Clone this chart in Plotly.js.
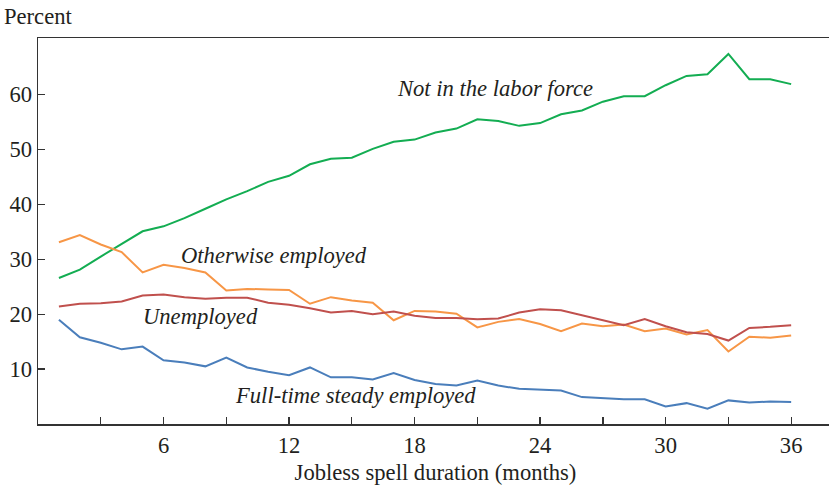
<!DOCTYPE html>
<html>
<head>
<meta charset="utf-8">
<script src="https://cdn.plot.ly/plotly-3.0.1.min.js"></script>
<style>
html,body{margin:0;padding:0;overflow:hidden;background:#fff;}
#chart{width:834px;height:490px;}
</style>
</head>
<body>
<div id="chart"></div>
<script>
const months = [1,2,3,4,5,6,7,8,9,10,11,12,13,14,15,16,17,18,19,20,21,22,23,24,25,26,27,28,29,30,31,32,33,34,35,36];
const notInLaborForce = [26.6,28.1,30.5,32.8,35.1,36.0,37.5,39.2,40.9,42.4,44.1,45.2,47.3,48.3,48.5,50.1,51.4,51.8,53.1,53.8,55.5,55.2,54.3,54.8,56.4,57.1,58.7,59.7,59.7,61.7,63.4,63.7,67.4,62.8,62.8,61.9];
const otherwiseEmployed = [33.1,34.4,32.7,31.3,27.6,29.0,28.4,27.6,24.3,24.6,24.5,24.4,21.9,23.1,22.5,22.1,18.9,20.6,20.5,20.1,17.6,18.6,19.1,18.2,16.9,18.3,17.8,18.1,16.9,17.4,16.3,17.1,13.2,15.9,15.7,16.1];
const unemployed = [21.4,21.9,22.0,22.3,23.4,23.6,23.1,22.8,23.0,23.0,22.1,21.7,21.1,20.3,20.6,20.0,20.5,19.7,19.3,19.3,19.1,19.2,20.3,20.9,20.7,19.8,19.0,18.0,19.1,17.8,16.7,16.4,15.2,17.5,17.7,18.0];
const fullTimeSteady = [19.0,15.8,14.8,13.6,14.1,11.6,11.2,10.5,12.1,10.3,9.5,8.9,10.3,8.5,8.5,8.1,9.3,8.0,7.3,7.0,7.9,7.0,6.4,6.2,6.1,4.9,4.7,4.5,4.5,3.2,3.8,2.8,4.3,3.9,4.1,4.0];
const seriesNames = ["Not in the labor force","Otherwise employed","Unemployed","Full-time steady employed"];
const xTickVals = [6,12,18,24,30,36];
const yTickVals = [10,20,30,40,50,60];

const FONT = '"Liberation Serif", "Times New Roman", serif';
const FS = 22.6;
const colors = ["#13ad52","#f79646","#c0504d","#4a7ebb"];
const ys = [notInLaborForce, otherwiseEmployed, unemployed, fullTimeSteady];
const traces = ys.map((y,i)=>({
  x: months, y: y, type:"scatter", mode:"lines", name: seriesNames[i],
  line:{color:colors[i], width:2}, hoverinfo:"skip"
}));

const labelPos = [[21.86,61.1],[11.3,30.6],[7.76,19.6],[15.17,5.2]];
const annotations = seriesNames.map((t,i)=>({
  x:labelPos[i][0], y:labelPos[i][1], xref:"x", yref:"y", text:"<i>"+t+"</i>",
  showarrow:false, font:{family:FONT, size:FS, color:"#231f20"}, xanchor:"center", yanchor:"middle"
}));
annotations.push({x:0, y:1, xref:"paper", yref:"paper", xshift:-36, yshift:36, text:"Percent",
  showarrow:false, xanchor:"left", yanchor:"top", font:{family:FONT,size:FS,color:"#231f20"}});

const layout = {
  width:834, height:490,
  margin:{l:38, r:1, t:38, b:66},
  paper_bgcolor:"#fff", plot_bgcolor:"#fff",
  showlegend:false,
  font:{family:FONT, size:FS, color:"#231f20"},
  xaxis:{
    range:[0,38], tickvals:xTickVals, ticktext:xTickVals.map(String),
    ticks:"inside", ticklen:7, tickwidth:1.3, tickcolor:"#333",
    minor:{dtick:3, tick0:0, ticks:"inside", ticklen:7, tickwidth:1.3, tickcolor:"#333", showgrid:false},
    showline:true, linecolor:"#333", linewidth:1.5, mirror:true,
    showgrid:false, zeroline:false,
    tickfont:{family:FONT,size:FS,color:"#231f20"},
    title:{text:"Jobless spell duration (months)", font:{family:FONT,size:FS,color:"#231f20"}, standoff:7}
  },
  yaxis:{
    range:[0,70.3], tickvals:yTickVals, ticktext:yTickVals.map(String),
    ticks:"inside", ticklen:7, tickwidth:1.3, tickcolor:"#333",
    showline:true, linecolor:"#333", linewidth:1.5, mirror:true,
    showgrid:false, zeroline:false,
    tickfont:{family:FONT,size:FS,color:"#231f20"}
  },
  annotations: annotations
};
Plotly.newPlot("chart", traces, layout, {displayModeBar:false, staticPlot:true});
</script>
</body>
</html>
